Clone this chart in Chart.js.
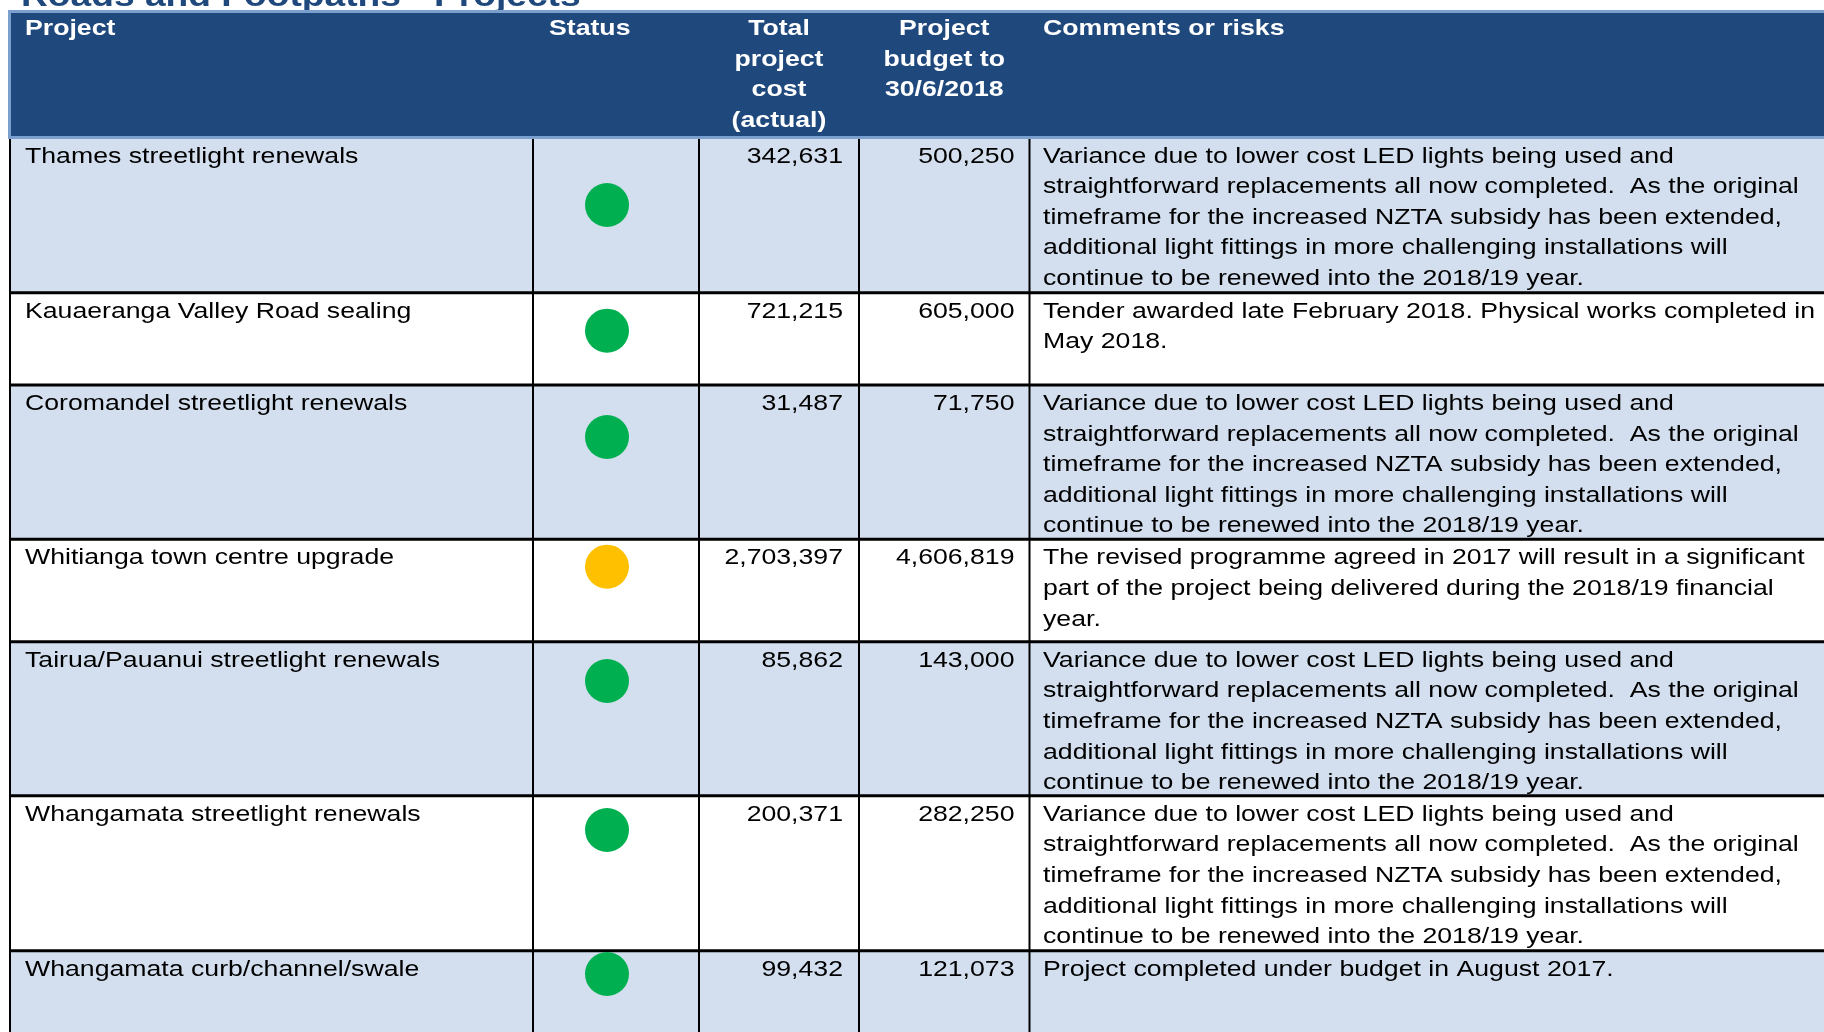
<!DOCTYPE html>
<html>
<head>
<meta charset="utf-8">
<script src="https://cdn.jsdelivr.net/npm/chart.js@4.4.1/dist/chart.umd.min.js"></script>
<style>
  html, body { margin: 0; padding: 0; background: #ffffff; overflow: hidden; }
  #wrap { width: 1824px; height: 1032px; position: relative; }
</style>
</head>
<body>
<div id="wrap"><canvas id="c" width="1824" height="1032"></canvas></div>
<script>
// ---------------- DATA ----------------
const title = "Roads and Footpaths - Projects";
const headers = [
  ["Project"],
  ["Status"],
  ["Total", "project", "cost", "(actual)"],
  ["Project", "budget to", "30/6/2018"],
  ["Comments or risks"]
];
const projects = [
  "Thames streetlight renewals",
  "Kauaeranga Valley Road sealing",
  "Coromandel streetlight renewals",
  "Whitianga town centre upgrade",
  "Tairua/Pauanui streetlight renewals",
  "Whangamata streetlight renewals",
  "Whangamata curb/channel/swale"
];
const statuses = ["green", "green", "green", "amber", "green", "green", "green"];
const totalCost = [342631, 721215, 31487, 2703397, 85862, 200371, 99432];
const budget = [500250, 605000, 71750, 4606819, 143000, 282250, 121073];
const ledComment = [
  "Variance due to lower cost LED lights being used and",
  "straightforward replacements all now completed.  As the original",
  "timeframe for the increased NZTA subsidy has been extended,",
  "additional light fittings in more challenging installations will",
  "continue to be renewed into the 2018/19 year."
];
const comments = [
  ledComment,
  ["Tender awarded late February 2018. Physical works completed in", "May 2018."],
  ledComment,
  ["The revised programme agreed in 2017 will result in a significant",
   "part of the project being delivered during the 2018/19 financial",
   "year."],
  ledComment,
  ledComment,
  ["Project completed under budget in August 2017."]
];

// ---------------- LAYOUT (design units of the x / y scales) ----------------
const LAYOUT = {
  width: 1824, height: 1032,
  tableLeft: 10,
  colEdges: [10, 533, 699, 859, 1029.5],
  headerTop: 11.5, headerBottom: 137.5,
  rowTops: [137.5, 292.7, 385, 539.3, 641.7, 795.7, 950.7],
  statusDotX: 607,
  dotOffsets: [67.5, 38, 52, 27.4, 39.3, 34.3, 23.3],
  padL: 15, padR: 15,
  statusHeaderX: 549,
  firstBaseline: 25, lineStep: 30.6,
  headerBaseline: 35, headerStep: 30.7,
  titleX: 21, titleBaseline: 5.5
};
const STYLE = {
  font: '"Liberation Sans", Arial, sans-serif',
  size: 22.6, titleSize: 31.5, sx: 1.18,
  headerBg: "#1F497D", headerBorder: "#7BA0CD", shade: "#D3DFEE",
  text: "#000000", title: "#1F497D", rule: "#000000",
  statusColors: { green: "#00B050", amber: "#FFC000" }
};

const fmt = v => v.toLocaleString("en-US");

const dotPoints = statuses.map((s, i) => ({ x: LAYOUT.statusDotX, y: LAYOUT.rowTops[i] + LAYOUT.dotOffsets[i] }));

const tablePlugin = {
  id: "tablePlugin",
  beforeDatasetsDraw(chart) {
    const ctx = chart.ctx;
    const xs = chart.scales.x, ys = chart.scales.y;
    const X = v => xs.getPixelForValue(v);
    const Y = v => ys.getPixelForValue(v);
    const right = X(LAYOUT.width) + 50;
    const bottom = Y(LAYOUT.height) + 50;

    function text(str, x, y, align, bold, size, color) {
      ctx.save();
      ctx.translate(X(x), Y(y));
      ctx.scale(STYLE.sx, 1);
      ctx.font = (bold ? "bold " : "") + size + "px " + STYLE.font;
      ctx.fillStyle = color;
      ctx.textAlign = align;
      ctx.textBaseline = "alphabetic";
      ctx.fillText(str, 0, 0);
      ctx.restore();
    }
    function hline(y, x0, x1, w, c) {
      ctx.save(); ctx.strokeStyle = c; ctx.lineWidth = w;
      ctx.beginPath(); ctx.moveTo(x0, Y(y)); ctx.lineTo(x1, Y(y)); ctx.stroke(); ctx.restore();
    }
    function vline(x, y0, y1, w, c) {
      ctx.save(); ctx.strokeStyle = c; ctx.lineWidth = w;
      ctx.beginPath(); ctx.moveTo(X(x), y0); ctx.lineTo(X(x), y1); ctx.stroke(); ctx.restore();
    }

    // title (partly hidden above the table)
    text(title, LAYOUT.titleX, LAYOUT.titleBaseline, "left", true, STYLE.titleSize, STYLE.title);

    // row backgrounds
    const tops = LAYOUT.rowTops;
    for (let i = 0; i < tops.length; i++) {
      const y0 = Y(tops[i]);
      const y1 = i + 1 < tops.length ? Y(tops[i + 1]) : bottom;
      ctx.fillStyle = i % 2 === 0 ? STYLE.shade : "#ffffff";
      ctx.fillRect(X(LAYOUT.tableLeft), y0, right - X(LAYOUT.tableLeft), y1 - y0);
    }

    // header
    ctx.fillStyle = STYLE.headerBg;
    ctx.fillRect(X(LAYOUT.tableLeft), Y(LAYOUT.headerTop), right - X(LAYOUT.tableLeft), Y(LAYOUT.headerBottom) - Y(LAYOUT.headerTop));
    hline(LAYOUT.headerTop, X(LAYOUT.tableLeft) - 1.5, right, 3, STYLE.headerBorder);
    hline(LAYOUT.headerBottom, X(LAYOUT.tableLeft) - 1.5, right, 3, STYLE.headerBorder);
    vline(LAYOUT.tableLeft - 0.5, Y(LAYOUT.headerTop) - 1.5, Y(LAYOUT.headerBottom) + 1.5, 3, STYLE.headerBorder);

    // body rules
    const bodyTop = Y(LAYOUT.headerBottom) + 1.5;
    LAYOUT.colEdges.forEach(cx => vline(cx, bodyTop, bottom, 2, STYLE.rule));
    for (let i = 1; i < tops.length; i++) hline(tops[i], X(LAYOUT.tableLeft) - 1, right, 3, STYLE.rule);

    // header text
    const ce = LAYOUT.colEdges;
    const hb = LAYOUT.headerBaseline;
    headers[0].forEach((t, k) => text(t, ce[0] + LAYOUT.padL, hb + k * LAYOUT.headerStep, "left", true, STYLE.size, "#ffffff"));
    headers[1].forEach((t, k) => text(t, LAYOUT.statusHeaderX, hb + k * LAYOUT.headerStep, "left", true, STYLE.size, "#ffffff"));
    headers[2].forEach((t, k) => text(t, (ce[2] + ce[3]) / 2, hb + k * LAYOUT.headerStep, "center", true, STYLE.size, "#ffffff"));
    headers[3].forEach((t, k) => text(t, (ce[3] + ce[4]) / 2, hb + k * LAYOUT.headerStep, "center", true, STYLE.size, "#ffffff"));
    headers[4].forEach((t, k) => text(t, ce[4] + LAYOUT.padL - 1.5, hb + k * LAYOUT.headerStep, "left", true, STYLE.size, "#ffffff"));

    // body text
    for (let i = 0; i < projects.length; i++) {
      const b = tops[i] + LAYOUT.firstBaseline;
      text(projects[i], ce[0] + LAYOUT.padL, b, "left", false, STYLE.size, STYLE.text);
      text(fmt(totalCost[i]), ce[3] - LAYOUT.padR - 1, b, "right", false, STYLE.size, STYLE.text);
      text(fmt(budget[i]), ce[4] - LAYOUT.padR, b, "right", false, STYLE.size, STYLE.text);
      comments[i].forEach((line, k) =>
        text(line, ce[4] + LAYOUT.padL - 1.5, b + k * LAYOUT.lineStep, "left", false, STYLE.size, STYLE.text));
    }
  }
};

new Chart(document.getElementById("c"), {
  type: "scatter",
  data: {
    datasets: [{
      label: "Status",
      data: dotPoints,
      pointRadius: 22,
      pointHoverRadius: 22,
      pointBorderWidth: 0,
      pointBackgroundColor: statuses.map(s => STYLE.statusColors[s]),
      pointBorderColor: statuses.map(s => STYLE.statusColors[s])
    }]
  },
  options: {
    responsive: false,
    animation: false,
    devicePixelRatio: 1,
    layout: { padding: 0, autoPadding: false },
    plugins: { legend: { display: false }, tooltip: { enabled: false }, title: { display: false } },
    scales: {
      x: { type: "linear", min: 0, max: LAYOUT.width, display: false },
      y: { type: "linear", min: 0, max: LAYOUT.height, reverse: true, display: false }
    }
  },
  plugins: [tablePlugin]
});
</script>
</body>
</html>
